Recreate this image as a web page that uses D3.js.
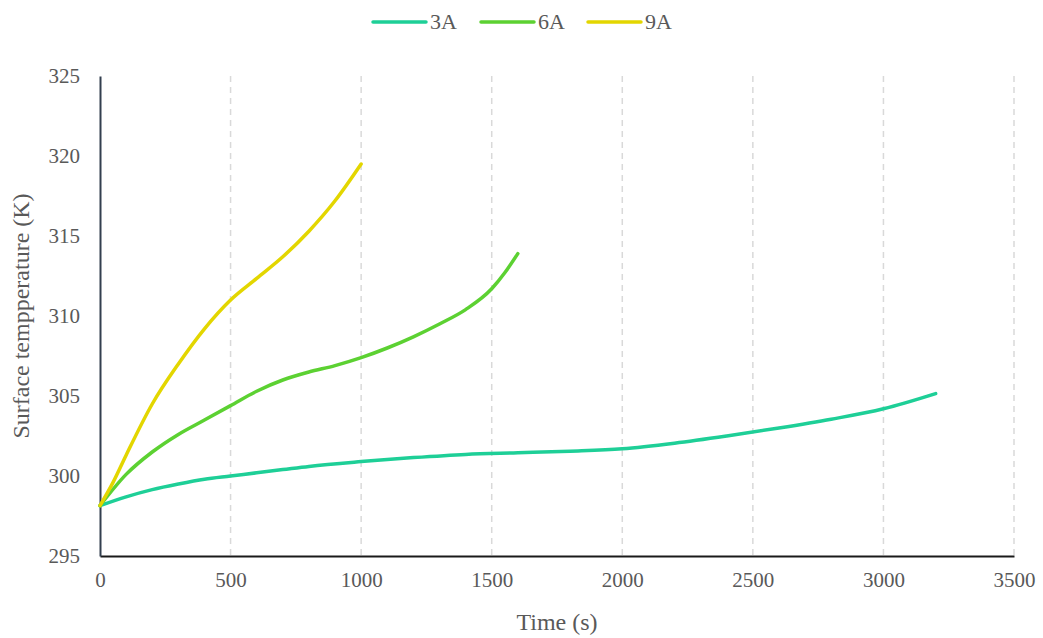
<!DOCTYPE html>
<html>
<head>
<meta charset="utf-8">
<script src="https://cdn.jsdelivr.net/npm/d3@7"></script>
<style>
  html, body { margin: 0; padding: 0; background: #ffffff; }
  svg { display: block; }
</style>
</head>
<body>
<svg id="chart" width="1043" height="638"></svg>
<script>
// Surface temperature over time for three currents
const seriesNames = ["3A", "6A", "9A"];
const seriesColors = ["#1ecf97", "#5cd132", "#e3d600"];

const time3A = [0, 100, 200, 300, 400, 500, 600, 700, 800, 1000, 1200, 1400, 1600, 1800, 2000, 2200, 2400, 2600, 2800, 3000, 3200];
const temp3A = [298.15, 298.7, 299.15, 299.5, 299.8, 300.0, 300.2, 300.4, 300.6, 300.9, 301.15, 301.35, 301.45, 301.55, 301.7, 302.05, 302.5, 303.0, 303.55, 304.2, 305.15];

const time6A = [0, 100, 200, 300, 400, 500, 600, 700, 800, 900, 1000, 1100, 1200, 1300, 1400, 1500, 1550, 1600];
const temp6A = [298.15, 300.1, 301.5, 302.6, 303.5, 304.4, 305.3, 306.0, 306.5, 306.9, 307.4, 308.0, 308.7, 309.5, 310.4, 311.7, 312.7, 313.9];

const time9A = [0, 50, 100, 200, 300, 400, 500, 600, 700, 800, 900, 1000];
const temp9A = [298.15, 299.6, 301.3, 304.5, 307.0, 309.2, 311.0, 312.35, 313.7, 315.3, 317.2, 319.5];

const xTicks = [0, 500, 1000, 1500, 2000, 2500, 3000, 3500];
const yTicks = [295, 300, 305, 310, 315, 320, 325];

const seriesTimes = [time3A, time6A, time9A];
const seriesTemps = [temp3A, temp6A, temp9A];

const FONT = "Liberation Serif";
const TEXT = "#595959";

const svg = d3.select("#chart");
const margin = { left: 100, right: 29, top: 76, bottom: 82 };
const W = 1043, H = 638;

const x = d3.scaleLinear().domain([0, 3500]).range([margin.left, W - margin.right]);
const y = d3.scaleLinear().domain([295, 325]).range([H - margin.bottom, margin.top]);

// vertical dashed gridlines
svg.append("g")
  .selectAll("line")
  .data(xTicks.filter(d => d > 0))
  .join("line")
  .attr("x1", d => x(d)).attr("x2", d => x(d))
  .attr("y1", y(325)).attr("y2", y(295))
  .attr("stroke", "#d9d9d9")
  .attr("stroke-width", 1.5)
  .attr("stroke-dasharray", "6,5");

// x axis
const xAxis = svg.append("g")
  .attr("transform", `translate(0,${y(295)})`)
  .call(d3.axisBottom(x).tickValues(xTicks).tickFormat(d3.format("d")).tickSize(0).tickPadding(16))
  .attr("font-family", FONT)
  .attr("font-size", 21);
xAxis.select(".domain").attr("stroke", "#1a1a1a").attr("stroke-width", 2);
xAxis.selectAll("text").attr("fill", TEXT);

// y axis
const yAxis = svg.append("g")
  .attr("transform", `translate(${x(0)},0)`)
  .call(d3.axisLeft(y).tickValues(yTicks).tickFormat(d3.format("d")).tickSize(0).tickPadding(20))
  .attr("font-family", FONT)
  .attr("font-size", 21);
yAxis.select(".domain").attr("stroke", "#333f4f").attr("stroke-width", 2);
yAxis.selectAll("text").attr("fill", TEXT);

// axis titles
svg.append("text")
  .attr("x", (x(0) + x(3500)) / 2)
  .attr("y", 630)
  .attr("text-anchor", "middle")
  .attr("font-family", FONT)
  .attr("font-size", 24)
  .attr("fill", TEXT)
  .text("Time (s)");

svg.append("text")
  .attr("transform", `translate(29,${(y(295) + y(325)) / 2}) rotate(-90)`)
  .attr("text-anchor", "middle")
  .attr("font-family", FONT)
  .attr("font-size", 24)
  .attr("fill", TEXT)
  .text("Surface tempperature (K)");

// curves
const line = d3.line()
  .x(d => x(d[0]))
  .y(d => y(d[1]))
  .curve(d3.curveMonotoneX);

seriesNames.forEach((name, i) => {
  const pts = seriesTimes[i].map((t, j) => [t, seriesTemps[i][j]]);
  svg.append("path")
    .datum(pts)
    .attr("d", line)
    .attr("fill", "none")
    .attr("stroke", seriesColors[i])
    .attr("stroke-width", 3.5)
    .attr("stroke-linecap", "round")
    .attr("stroke-linejoin", "round");
});

// legend
const legendX = [373, 481, 588];
const legend = svg.append("g");
seriesNames.forEach((name, i) => {
  legend.append("line")
    .attr("x1", legendX[i]).attr("x2", legendX[i] + 53)
    .attr("y1", 22).attr("y2", 22)
    .attr("stroke", seriesColors[i])
    .attr("stroke-width", 3.5)
    .attr("stroke-linecap", "round");
  legend.append("text")
    .attr("x", legendX[i] + 57)
    .attr("y", 29)
    .attr("font-family", FONT)
    .attr("font-size", 22)
    .attr("fill", TEXT)
    .text(name);
});
</script>
</body>
</html>
